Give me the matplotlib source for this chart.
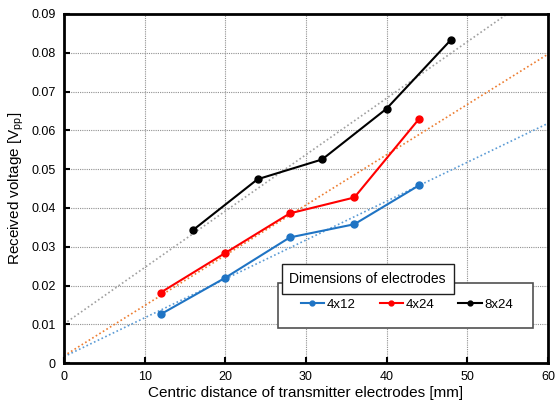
import numpy as np
import matplotlib
matplotlib.use("Agg")
import matplotlib.pyplot as plt
from matplotlib.patches import Rectangle

plt.rcParams['font.family'] = ['Liberation Sans', 'DejaVu Sans']
plt.rcParams['mathtext.fontset'] = 'custom'
plt.rcParams['mathtext.rm'] = 'Liberation Sans'

# data
x_4x12 = [12, 20, 28, 36, 44]
v_4x12 = [0.0126, 0.0220, 0.0324, 0.0358, 0.0458]
x_4x24 = [12, 20, 28, 36, 44]
v_4x24 = [0.0182, 0.0284, 0.0386, 0.0427, 0.0629]
x_8x24 = [16, 24, 32, 40, 48]
v_8x24 = [0.0343, 0.0474, 0.0525, 0.0656, 0.0834]

series = [("4x12", x_4x12, v_4x12, "#1F74C4", "#5B9BD5"),
          ("4x24", x_4x24, v_4x24, "#FF0000", "#ED7D31"),
          ("8x24", x_8x24, v_8x24, "#000000", "#A0A0A0")]

fig = plt.figure(figsize=(5.56, 4.08), dpi=100)
ax = fig.add_axes([0.115, 0.110, 0.8705, 0.8557])

xs = np.array([0, 60])
for name, x, v, c, tc in series:
    # linear trendline (as in the original chart)
    k, b = np.polyfit(x, v, 1)
    ax.plot(xs, k * xs + b, ls=(0, (1, 1.5)), color=tc, lw=1.2, zorder=2)
for name, x, v, c, tc in series:
    ax.plot(x, v, "-o", color=c, lw=1.5, ms=5, label=name, zorder=3)

ax.set_xlim(0, 60)
ax.set_ylim(0, 0.09)
ax.set_xticks(range(0, 61, 10))
ax.set_yticks(np.arange(0, 0.091, 0.01))
ax.set_yticklabels(["0"] + ["%.2f" % t for t in np.arange(0.01, 0.091, 0.01)])
ax.grid(True, ls=(0, (1, 1)), color="#909090", lw=0.8)
ax.tick_params(direction="in", length=4, width=1.5, labelsize=9, pad=6)
for s in ax.spines.values():
    s.set_linewidth(2)
ax.set_xlabel("Centric distance of transmitter electrodes [mm]", fontsize=11, labelpad=2)
ax.set_ylabel(r"Received voltage [V$_{\mathregular{pp}}$]", fontsize=11, labelpad=4)

# legend box drawn by hand, legend itself without frame
ax.add_patch(Rectangle((0.442, 0.100), 0.527, 0.129, transform=ax.transAxes,
                       fc="white", ec="#505050", lw=1.2, zorder=4))
leg = ax.legend(ncol=3, loc="center", bbox_to_anchor=(0.709, 0.167),
                fontsize=9.5, borderaxespad=0, frameon=False,
                handlelength=1.8, columnspacing=1.8, handletextpad=0.2,
                borderpad=0, markerscale=0.7)
leg.set_zorder(5)
ax.text(0.466, 0.241, "Dimensions of electrodes", transform=ax.transAxes, fontsize=10,
        ha="left", va="center", zorder=6,
        bbox=dict(boxstyle="square,pad=0.55", fc="white", ec="#202020", lw=1))

fig.savefig("out.png", dpi=100)
